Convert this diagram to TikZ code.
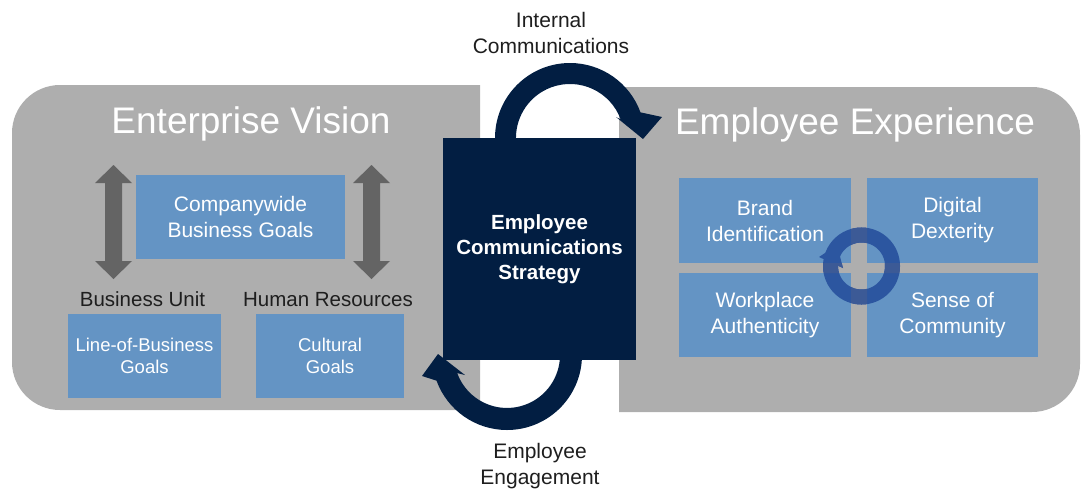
\documentclass[tikz,border=0pt]{standalone}
\usepackage{fontspec}
\setmainfont{Liberation Sans}
\definecolor{panelgray}{RGB}{174,174,174}
\definecolor{boxblue}{RGB}{100,148,196}
\definecolor{navy}{RGB}{2,30,66}
\definecolor{arrowgray}{RGB}{100,100,100}
\definecolor{txtdark}{RGB}{30,30,30}
\definecolor{ringA}{RGB}{44,86,160}
\definecolor{ringB}{RGB}{60,90,150}
\begin{document}
\begin{tikzpicture}[x=1pt,y=1pt,yscale=-1,
  panel/.style={fill=panelgray},
  bluebox/.style={fill=boxblue, text=white, inner sep=0pt, align=center, font=\fontsize{21}{26}\selectfont},
  smallbox/.style={bluebox, font=\fontsize{18.5}{21.5}\selectfont},
  titletext/.style={text=white, anchor=base, font=\fontsize{37}{40}\selectfont},
  labeltext/.style={text=txtdark, align=center, font=\fontsize{21}{26}\selectfont},
  unittext/.style={text=txtdark, anchor=base, font=\fontsize{20.5}{24}\selectfont},
  darkbox/.style={fill=navy, text=white, inner sep=0pt, align=center, font=\bfseries\fontsize{20.5}{25}\selectfont},
  bigarrow/.style={fill=navy},
  dblarrow/.style={fill=arrowgray}
]
\useasboundingbox (0,0) rectangle (1081,491);

% panels
\fill[panel] (480,85) -- (60,85) arc[start angle=270,end angle=180,radius=48]
  -- (12,362) arc[start angle=180,end angle=90,radius=48] -- (480,410) -- cycle;
\fill[panel] (619,87) -- (1032,87) arc[start angle=270,end angle=360,radius=48]
  -- (1080,364) arc[start angle=0,end angle=90,radius=48] -- (619,412) -- cycle;

% titles
\node[titletext] (ev) at (251,133) {Enterprise Vision};
\node[titletext] (ee) at (855,134) {Employee Experience};

% left boxes
\node[bluebox, minimum width=209, minimum height=84] (cbg) at (240.5,217) {Companywide\\Business Goals};
\node[smallbox, minimum width=153, minimum height=84] (lob) at (144.5,356) {Line-of-Business\\Goals};
\node[smallbox, minimum width=148, minimum height=84] (cult) at (330,356) {Cultural\\Goals};
\node[unittext] (bu) at (142.5,306) {Business Unit};
\node[unittext] (hr) at (328,306) {Human Resources};

% double arrows
\fill[dblarrow] (113.5,165) -- (132,183) -- (122,183) -- (122,261) -- (132,261) -- (113.5,279)
  -- (95,261) -- (105,261) -- (105,183) -- (95,183) -- cycle;
\fill[dblarrow] (371.5,165) -- (390,183) -- (380,183) -- (380,261) -- (390,261) -- (371.5,279)
  -- (353,261) -- (363,261) -- (363,183) -- (353,183) -- cycle;

% right boxes
\node[bluebox, minimum width=172, minimum height=85] (brand) at (765,220.5) {Brand\\Identification};
\node[bluebox, minimum width=171, minimum height=85] (digi) at (952.5,220.5) {Digital\\Dexterity};
\node[bluebox, minimum width=172, minimum height=84] (work) at (765,315) {Workplace\\Authenticity};
\node[bluebox, minimum width=171, minimum height=84] (sense) at (952.5,315) {Sense of\\Community};

% cycle ring
\coordinate (rc) at (861.5,266);
\draw[ringA, line width=15] (rc) circle[radius=31];
\fill[ringA] (819,257) -- (837,245) -- (843,268) -- cycle;
\begin{scope}
  \clip (851,170) rectangle (867,360) (670,263) rectangle (1040,273);
  \draw[ringB, line width=15] (rc) circle[radius=31];
  \fill[ringB] (819,257) -- (837,245) -- (843,268) -- cycle;
\end{scope}

% curved arrows
\fill[bigarrow] (495,150) -- (495,138) arc[start angle=180,end angle=340,radius=75]
  -- (662,117) -- (643,139) -- (616,117) -- (620.7,119.5)
  arc[start angle=340,end angle=180,radius=54] -- (516,150) -- cycle;
\fill[bigarrow] (582,345) -- (582,355) arc[start angle=0,end angle=160,radius=75]
  -- (422,376) -- (438,354) -- (465,375) -- (457.2,373.1)
  arc[start angle=160,end angle=0,radius=53] -- (560,345) -- cycle;

% central box
\node[darkbox, minimum width=193, minimum height=222] (strat) at (539.5,249) {Employee\\Communications\\Strategy};

% outer labels
\node[labeltext] (ic) at (551,33) {Internal\\Communications};
\node[labeltext] (eng) at (540,466) {Employee\\Engagement};
\end{tikzpicture}
\end{document}
